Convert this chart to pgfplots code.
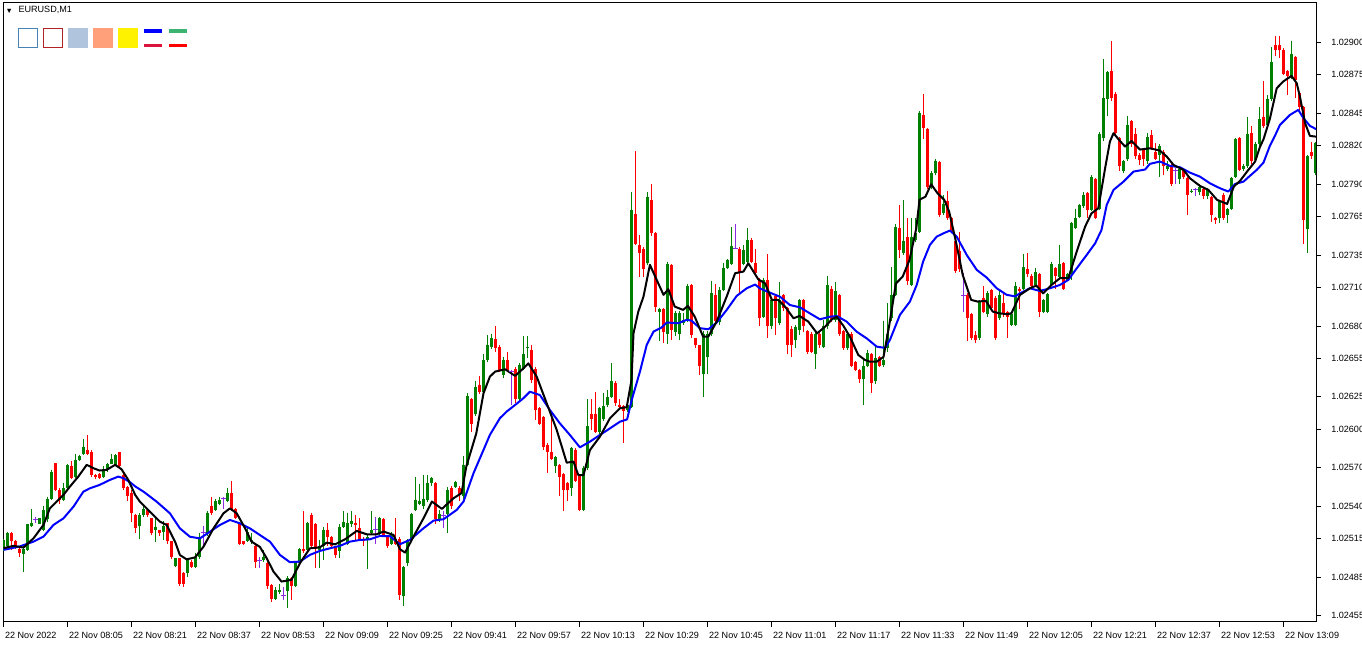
\documentclass[border=0pt]{standalone}
\usepackage{pgfplots}
\pgfplotsset{compat=1.18}
\usepackage{pgfplotstable}
\usepackage{fontspec}
\setmainfont{Liberation Sans}

\definecolor{cup}{RGB}{0,128,0}
\definecolor{cdown}{RGB}{255,0,0}
\definecolor{cdoji}{RGB}{138,43,226}
\definecolor{steel}{RGB}{70,130,180}
\definecolor{firebrick}{RGB}{178,34,34}
\definecolor{lsteel}{RGB}{176,196,222}
\definecolor{lsalmon}{RGB}{255,160,122}
\definecolor{crimson}{RGB}{220,20,60}
\definecolor{mseagreen}{RGB}{60,179,113}

% EURUSD M1, prices in points above 1.02000 (e.g. 515 = 1.02515), i = minutes since 07:49
\pgfplotstableread{
i o h l c
0 508 515 505 514
1 509 520 507 519
2 519 520 506 513
3 513 514 507 509
4 507 508 501 504
5 503 508 489 507
6 506 526 505 526
7 525 538 524 527
8 530 532 527 530
9 526 531 526 531
10 522 540 521 537
11 530 547 528 546
12 546 568 545 567
13 574 574 552 553
14 553 554 542 545
15 545 558 544 554
16 554 573 553 572
17 571 575 561 562
18 563 581 562 576
19 576 580 575 579
20 581 592 580 586
21 584 595 580 581
22 582 584 563 564
23 564 565 561 563
24 565 566 561 562
25 563 571 562 569
26 568 574 567 573
27 573 581 573 577
28 572 581 571 580
29 582 582 570 571
30 564 565 553 554
31 555 556 544 548
32 550 553 528 535
33 533 534 519 523
34 525 535 515 533
35 533 540 532 538
36 537 538 532 533
37 531 531 518 519
38 522 532 512 524
39 522 522 517 519
40 520 529 514 525
41 527 527 511 513
42 513 513 499 501
43 494 500 493 500
44 500 500 478 480
45 488 489 477 480
46 488 499 485 498
47 497 498 492 493
48 493 504 492 501
49 501 519 499 516
50 520 525 509 520
51 519 536 517 535
52 540 547 533 535
53 537 546 536 544
54 542 547 541 545
55 546 547 538 546
56 544 554 543 550
57 550 560 537 538
58 538 539 530 531
59 527 528 510 511
60 513 513 510 511
61 513 524 512 520
62 513 519 511 514
63 509 510 492 497
64 498 501 492 498
65 498 506 497 501
66 496 497 476 478
67 479 480 466 468
68 468 477 467 475
69 474 480 472 475
70 471 477 467 471
71 474 486 461 484
72 484 485 467 478
73 478 497 477 496
74 496 508 494 507
75 507 536 504 505
76 506 528 505 527
77 533 535 507 509
78 526 527 492 507
79 506 514 492 509
80 509 524 498 522
81 522 527 509 516
82 516 517 507 509
83 509 509 500 502
84 505 526 500 524
85 524 536 523 528
86 511 535 510 527
87 526 536 524 529
88 527 533 514 526
89 523 531 513 515
90 515 516 509 513
91 514 518 491 516
92 519 536 518 522
93 522 532 511 522
94 519 532 518 531
95 530 531 516 517
96 516 517 508 509
97 511 520 510 518
98 515 531 510 511
99 515 516 467 471
100 470 494 463 493
101 496 515 494 514
102 514 535 513 534
103 537 563 536 545
104 542 557 541 544
105 540 564 538 546
106 545 564 543 558
107 558 563 556 562
108 558 559 526 530
109 530 537 528 534
110 533 536 523 533
111 534 555 519 553
112 554 556 538 540
113 555 560 554 559
114 554 556 544 549
115 548 579 546 572
116 572 628 571 626
117 623 624 598 604
118 612 637 610 633
119 634 641 627 629
120 629 658 627 654
121 654 673 652 665
122 664 674 662 671
123 670 680 660 663
124 664 665 644 646
125 642 656 640 654
126 654 660 644 646
127 645 646 619 645
128 647 648 620 623
129 623 651 621 650
130 647 672 646 658
131 663 672 655 664
132 661 665 636 638
133 647 648 607 615
134 616 617 603 604
135 609 610 584 586
136 588 589 566 582
137 582 612 576 577
138 571 579 566 578
139 572 573 548 563
140 565 566 536 553
141 558 559 544 553
142 554 586 548 585
143 584 585 559 560
144 564 565 536 537
145 537 571 536 570
146 570 623 568 602
147 612 623 599 608
148 612 629 597 598
149 598 617 596 616
150 608 628 606 618
151 619 630 617 625
152 625 651 624 637
153 636 637 618 620
154 619 623 616 617
155 618 619 589 614
156 615 620 613 619
157 617 784 616 770
158 767 816 743 744
159 743 751 718 737
160 740 741 718 724
161 729 784 727 780
162 778 790 750 752
163 752 753 691 695
164 691 694 668 693
165 693 694 667 675
166 674 730 666 728
167 727 728 669 677
168 675 692 672 690
169 674 692 669 690
170 682 690 681 685
171 685 713 683 711
172 712 713 671 673
173 671 671 663 665
174 665 665 642 649
175 643 676 625 674
176 656 676 643 674
177 674 715 672 706
178 704 713 683 684
179 683 710 681 708
180 708 729 707 725
181 725 732 724 731
182 728 757 727 742
183 740 759 740 740
184 740 741 704 722
185 728 743 727 739
186 730 756 729 747
187 747 748 729 730
188 729 740 719 721
189 716 717 680 686
190 687 717 686 716
191 716 736 671 680
192 680 701 678 700
193 703 704 673 686
194 682 714 681 700
195 704 705 692 694
196 694 695 658 665
197 678 680 656 665
198 669 681 663 679
199 677 701 673 700
200 700 701 675 680
201 676 677 658 660
202 674 675 659 660
203 658 676 647 674
204 674 675 663 665
205 664 685 663 680
206 680 719 678 712
207 709 711 683 685
208 685 714 683 707
209 704 705 672 674
210 676 677 661 663
211 663 676 661 674
212 674 675 648 649
213 652 653 645 646
214 646 647 636 639
215 639 654 619 649
216 649 661 648 659
217 658 659 628 636
218 637 665 635 655
219 656 657 648 649
220 650 684 648 654
221 663 698 660 674
222 686 726 684 704
223 704 759 703 757
224 756 774 733 739
225 737 778 735 746
226 749 764 712 715
227 712 764 711 749
228 747 764 745 752
229 753 847 752 845
230 844 860 825 834
231 833 834 786 788
232 788 800 786 799
233 799 810 797 808
234 807 808 765 766
235 768 782 766 775
236 777 785 762 764
237 764 765 752 753
238 746 747 721 723
239 738 753 722 724
240 704 721 691 704
241 704 706 668 686
242 689 690 669 671
243 673 676 667 669
244 671 700 669 699
245 702 711 690 691
246 689 707 687 706
247 708 709 692 694
248 702 703 669 671
249 686 708 685 704
250 698 706 687 689
251 691 692 671 687
252 681 690 680 689
253 681 714 680 711
254 709 710 693 707
255 709 736 708 726
256 724 737 718 720
257 719 720 709 711
258 712 725 711 722
259 720 721 687 691
260 691 701 690 700
261 691 706 690 705
262 712 730 711 728
263 725 726 709 719
264 718 743 717 728
265 729 730 708 709
266 716 721 715 720
267 720 761 716 760
268 756 771 755 764
269 765 775 764 774
270 773 784 772 782
271 783 784 764 770
272 770 797 769 796
273 794 795 763 764
274 771 831 770 829
275 826 887 824 857
276 856 878 843 877
277 878 901 855 857
278 860 862 828 830
279 826 827 800 804
280 800 809 799 808
281 810 843 808 836
282 839 840 819 821
283 829 834 810 812
284 813 814 805 809
285 817 818 804 810
286 808 830 806 827
287 828 832 817 818
288 815 822 809 810
289 813 821 796 820
290 815 817 797 804
291 802 808 800 804
292 804 806 789 790
293 801 803 790 801
294 794 803 790 802
295 802 803 794 796
296 795 796 766 782
297 784 786 783 785
298 786 787 781 786
299 784 790 782 788
300 786 788 779 781
301 781 787 779 786
302 780 781 761 766
303 764 765 759 762
304 764 778 760 777
305 782 783 762 764
306 766 772 760 771
307 771 796 770 795
308 796 826 795 825
309 826 827 800 801
310 802 806 800 804
311 804 842 803 829
312 830 835 806 808
313 809 823 807 821
314 821 850 820 841
315 842 870 834 835
316 836 859 835 856
317 856 897 855 885
318 898 905 890 894
319 898 905 888 894
320 894 896 875 876
321 878 879 859 874
322 874 901 872 891
323 889 890 857 871
324 861 862 845 850
325 850 851 744 762
326 755 813 737 812
327 815 823 810 812
328 799 823 797 822
}\candles

% fast moving average (black)
\pgfplotstableread{
i v
0 507.5
2.5 509.3
5 508
7.5 515.2
10 525.6
11.6 538.5
13.3 543.7
15 548.9
16.6 555.3
18.7 563.1
20.8 572.2
22.5 569.6
24 567.8
25.8 568.3
27.9 572.2
29.5 568.8
31.2 560.5
32.9 549
34.1 543.6
36.6 535.8
39.1 528.1
40.8 525.5
42.9 512.5
44.1 502.2
45.8 498.8
47.9 500.4
50 508.7
52.5 522.9
55 534.6
56.6 538.4
58.3 534.6
60.4 522.9
62 512.6
64.1 508.5
65.8 499.7
67.5 489.3
69.5 481.6
72 482.9
74.1 495.8
76.6 507.4
79.1 508.2
80.8 511.8
82.9 510.5
85.4 514.4
88.3 520.9
90.8 518.3
93.3 518.3
95 520.4
97.5 517.8
99.1 506.7
100.4 504.1
102.5 516.5
105 530.7
107.1 543.7
109.6 538
112.5 546.3
114.5 550.2
115.7 570.9
118.2 596.7
120 627.8
121.6 640.7
122.9 644.6
125.4 646.4
127.9 641.3
130 647.2
131.2 651
133.3 640.7
135.8 620
138.3 599.3
140.8 573.9
142.5 574.7
143.7 564.3
145 564.3
146.6 583.7
149.1 594.1
151.6 608.3
154.1 616.1
155.8 617
157 638.1
157.5 674.4
158.7 691.2
160 702.9
161.6 727.5
163.3 715.8
165 704.2
166.2 708.6
167.8 695.1
169.9 692.5
171.1 695.6
172.8 687.3
174.9 671.8
176.2 671.8
178.3 683.5
180.8 702.9
182.9 721
185 722.3
186.2 728.7
188.7 716.2
190.4 713.1
192.1 700.2
193.7 700.2
195.4 695
197.5 686
199 687.8
201.2 683.4
203.4 674.3
205.4 679.5
207.1 685.2
208.3 687.2
210 680
211.6 671.7
213.7 657.5
215.4 653.6
216.6 652.3
218.3 652.3
220 656
221.4 680
223.1 713
224.8 718.4
226.5 731.3
228.2 755.9
229 778
230.5 780.5
231.9 790.1
233.5 783.1
235.2 777.9
236.4 768.9
238.1 745.6
239.8 719.7
241.9 700.3
243.5 699
245.6 699.5
247.3 691.2
248.9 689.9
251 689.1
252 690
254.1 704.1
256.6 709.3
258.2 711.4
259.9 705.4
262 711.9
264.1 717.1
266.2 717.1
268.3 737.8
270.4 757.2
272 767.5
273.7 771.4
275.4 802.5
276.6 823.2
277.5 829.7
279.1 823.7
280.4 819.3
282 823.7
284.1 817
286.6 818
289.1 816.2
290.8 811.6
292.5 805.1
295 801.2
296.6 794.7
299.1 788.8
301.2 785.7
303.4 777.9
305.9 774.8
307.6 788.3
309.2 793
310.9 800
312.9 807.7
314.1 819
315 825
316.6 841
318.3 864.6
319.9 869.8
322 874.2
323.3 868.5
324.1 858.1
325.4 837.4
326.6 827.6
328.2 827
}\fastma

% slow moving average (blue)
\pgfplotstableread{
i v
0 506.2
4 508.8
7.5 512.6
10 516.5
12.5 525.6
15 530.7
17.5 539.8
20 551.5
21.6 554
24 556.6
26.6 560.5
28.7 563.1
30 561.8
31.6 558.8
33 555.3
35 551.4
38.3 543.6
41.6 534.6
44.1 522.9
46.6 516.4
49.1 515.1
51.6 520.3
54.1 525.5
56.6 529.4
59.1 526.8
61.6 522.9
64.1 517.7
66.6 512.6
69.1 502.3
71.6 496.6
74.1 497.1
76.6 502.3
79.1 505.4
81.6 507.4
84.1 509.3
86.6 512.6
89.1 513.9
91.6 514.4
94.1 517
96.6 516.8
99.1 510.6
101.6 513.9
105 523
107.5 528.9
110 530
113.3 537.2
115 543.7
117.5 565.7
120 583.8
121.6 595.5
124.1 608.4
125.8 613.6
127.9 618.7
130 624
131.6 629
134.1 626.4
136.6 614.8
139.1 604.4
141.6 595.4
144.1 585.8
146.6 590.2
149.1 595.4
151.6 600.5
154.1 605.7
155.9 607.5
157 622
159.1 644.5
160.8 665.3
162.5 675.7
164.5 678.8
165.8 682.7
168.7 682.2
170.8 684.8
172 684.2
174.1 678.3
176.2 677.5
178.3 682.7
180.8 692.5
183.3 703.4
185.8 709.3
187.9 712.2
189.1 709.2
191.6 705.9
194.1 702.8
196.6 696.3
199.1 694.5
201.6 689.8
204.1 685.2
206.6 687.2
208.3 687.8
210.8 683.4
213.3 675.6
215.8 670.4
218.3 664
220.4 663
221.6 669.2
224.1 688.6
226.6 699
228.3 711.9
229.9 730
231.6 743
233.3 749.4
235 752
236.6 754.1
238.3 749.4
240.8 735.2
243.3 723.6
245.8 717.6
248.3 709.3
250.8 704.2
252.9 703
254.1 705.4
256.6 709.3
259.1 707.2
261.6 709.3
264.1 711.9
266.2 715.8
268.3 724.8
270.8 735.2
272.9 744.2
274.5 754.6
275.8 774
277.5 785.7
280 792.1
282.5 799.9
285.4 801.5
286.6 805.9
289.1 807.7
291.6 804.3
294.1 803.3
296.6 799.1
299.1 796
301.6 790.8
304.1 787
306.2 784.4
307.9 790.3
310 792.1
311.6 796.6
313.3 801.2
315 806.9
316.6 820
317.9 828
319.1 836.1
321.6 843.9
323.7 847.8
325 841.3
326.6 835.4
328.2 832.8
}\slowma

\newcommand{\lbl}{\fontsize{6.8}{8}\selectfont}

\pgfplotsset{
  wick/.style={draw=none, mark=none, forget plot, restrict y to domain=0:2000,
    error bars/.cd, y dir=both, y explicit, error mark=none,
    error bar style={draw=#1, line width=0.75pt}},
  body/.style={draw=none, mark=none, forget plot, restrict y to domain=0:2000,
    error bars/.cd, y dir=both, y explicit, error mark=none,
    error bar style={draw=#1, line width=2.25pt}},
}

\begin{document}
\begin{tikzpicture}
\path[use as bounding box] (0,0) rectangle (1021.5pt,483.75pt);
\begin{axis}[
  at={(2.25pt,481.5pt)}, anchor=north west,
  scale only axis, width=984.75pt, height=464.25pt,
  xmin=-0.125, xmax=328.125,
  ymin=450.2, ymax=930.8,
  axis line style={line width=0.75pt},
  tick align=outside, major tick length=3.75pt,
  tick style={black, line width=0.75pt},
  xtick pos=bottom, ytick pos=right, yticklabel pos=right,
  xtick={0,16,...,320},
  xticklabels={22 Nov 2022,22 Nov 08:05,22 Nov 08:21,22 Nov 08:37,22 Nov 08:53,22 Nov 09:09,22 Nov 09:25,22 Nov 09:41,22 Nov 09:57,22 Nov 10:13,22 Nov 10:29,22 Nov 10:45,22 Nov 11:01,22 Nov 11:17,22 Nov 11:33,22 Nov 11:49,22 Nov 12:05,22 Nov 12:21,22 Nov 12:37,22 Nov 12:53,22 Nov 13:09},
  xticklabel style={font=\lbl, anchor=north west, inner sep=0pt, xshift=1pt, yshift=-4pt},
  ytick={455,485,515,540,570,600,625,655,680,710,735,765,790,820,845,875,900},
  yticklabels={1.02455,1.02485,1.02515,1.02540,1.02570,1.02600,1.02625,1.02655,1.02680,1.02710,1.02735,1.02765,1.02790,1.02820,1.02845,1.02875,1.02900},
  yticklabel style={font=\lbl, anchor=west, inner sep=0pt, xshift=7.5pt},
  clip=true,
]
% wicks
\addplot[wick=cup] table[x=i, y expr={\thisrow{c}>\thisrow{o} ? 0.5*(\thisrow{h}+\thisrow{l}) : -999}, y error expr={0.5*(\thisrow{h}-\thisrow{l})}] {\candles};
\addplot[wick=cdown] table[x=i, y expr={\thisrow{c}<\thisrow{o} ? 0.5*(\thisrow{h}+\thisrow{l}) : -999}, y error expr={0.5*(\thisrow{h}-\thisrow{l})}] {\candles};
\addplot[wick=cdoji] table[x=i, y expr={\thisrow{c}==\thisrow{o} ? 0.5*(\thisrow{h}+\thisrow{l}) : -999}, y error expr={0.5*(\thisrow{h}-\thisrow{l})}] {\candles};
% bodies
\addplot[body=cup] table[x=i, y expr={\thisrow{c}>\thisrow{o} ? 0.5*(\thisrow{o}+\thisrow{c}) : -999}, y error expr={0.5*abs(\thisrow{c}-\thisrow{o})}] {\candles};
\addplot[body=cdown] table[x=i, y expr={\thisrow{c}<\thisrow{o} ? 0.5*(\thisrow{o}+\thisrow{c}) : -999}, y error expr={0.5*abs(\thisrow{c}-\thisrow{o})}] {\candles};
\addplot[only marks, mark=-, mark size=1.7pt, cdoji, mark options={line width=0.75pt}, restrict y to domain=0:2000, forget plot]
  table[x=i, y expr={\thisrow{c}==\thisrow{o} ? \thisrow{c} : -999}] {\candles};
% moving averages
\addplot[blue, line width=1.5pt, line join=round, mark=none] table[x=i, y=v] {\slowma};
\addplot[black, line width=1.5pt, line join=round, mark=none] table[x=i, y=v] {\fastma};
\end{axis}
% chart header
\node[anchor=center, inner sep=0pt, font=\fontsize{5.5}{6}\selectfont] at (6.9pt,475.5pt) {▼};
\node[anchor=west, inner sep=0pt, font=\lbl] at (13.7pt,476pt) {EURUSD,M1};
\draw[line width=0.75pt, steel, fill=white] (13.875pt,462.375pt) rectangle (28.125pt,448.125pt);
\draw[line width=0.75pt, firebrick, fill=white] (32.375pt,462.375pt) rectangle (46.625pt,448.125pt);
\fill[lsteel] (51pt,462.75pt) rectangle (66pt,447.75pt);
\fill[lsalmon] (69.75pt,462.75pt) rectangle (84.75pt,447.75pt);
\fill[yellow] (88.5pt,462.75pt) rectangle (103.5pt,447.75pt);
\draw[line width=2.5pt, blue] (108pt,460.5pt) -- (121.5pt,460.5pt);
\draw[line width=2.5pt, crimson] (108pt,449.75pt) -- (121.5pt,449.75pt);
\draw[line width=2.5pt, mseagreen] (126.75pt,460.5pt) -- (140.25pt,460.5pt);
\draw[line width=2.5pt, red] (126.75pt,449.75pt) -- (140.25pt,449.75pt);
\end{tikzpicture}
\end{document}
